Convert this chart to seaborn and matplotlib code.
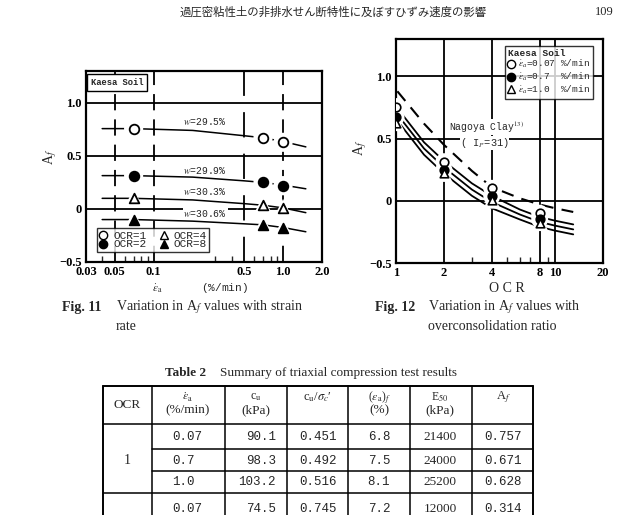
import matplotlib
matplotlib.use("Agg")
import matplotlib.pyplot as plt
import matplotlib.lines as mlines
import numpy as np
import pandas as pd
import seaborn as sns

# ---------------- data ----------------
strain_rates = [0.07, 0.7, 1.0]                 # %/min
ocr_values = [1, 2, 4, 8]
af_ocr1 = [0.757, 0.671, 0.628]
af_ocr2 = [0.314, 0.25, 0.22]
af_ocr4 = [0.10, 0.035, 0.005]
af_ocr8 = [-0.10, -0.15, -0.175]
water_contents = ["29.5", "29.9", "30.3", "30.6"]

# trend lines of Fig. 11 (A_f vs strain rate)
trend_rate = [0.04, 0.07, 0.2, 0.5, 0.7, 1.0, 1.5]
trend_ocr1 = [0.757, 0.757, 0.74, 0.69, 0.671, 0.635, 0.585]
trend_ocr2 = [0.314, 0.314, 0.30, 0.265, 0.25, 0.225, 0.19]
trend_ocr4 = [0.10, 0.10, 0.085, 0.05, 0.035, 0.01, -0.035]
trend_ocr8 = [-0.10, -0.10, -0.115, -0.14, -0.15, -0.175, -0.215]

# Nagoya clay curves of Fig. 12 (A_f vs OCR)
nagoya_ocr_dash = [1.02, 1.5, 2, 3, 4, 6, 8, 10, 13]
nagoya_dash = [0.88, 0.62, 0.45, 0.24, 0.11, 0.02, -0.03, -0.06, -0.09]
nagoya_ocr = [1.07, 1.5, 2, 3, 4, 6, 8, 10, 13]
nagoya_top = [0.71, 0.47, 0.32, 0.14, 0.04, -0.07, -0.13, -0.16, -0.19]
nagoya_mid = [0.66, 0.42, 0.27, 0.09, -0.01, -0.11, -0.17, -0.20, -0.23]
nagoya_bot = [0.61, 0.37, 0.22, 0.04, -0.06, -0.15, -0.21, -0.24, -0.27]

# Table 2
table_headers = ["OCR", "$\\dot{\\varepsilon}_{\\rm a}$\n(%/min)", "c$_{\\rm u}$\n(kPa)",
                 "c$_{\\rm u}$/$\\sigma_{c}$\u2032", "($\\varepsilon_{\\rm a}$)$_f$\n(%)",
                 "E$_{50}$\n(kPa)", "A$_f$"]
tbl_ocr = ["1", "1", "1", "2"]
tbl_rate = ["0.07", "0.7", "1.0", "0.07"]
tbl_cu = ["90.1", "98.3", "103.2", "74.5"]
tbl_cu_ratio = ["0.451", "0.492", "0.516", "0.745"]
tbl_strain_f = ["6.8", "7.5", "8.1", "7.2"]
tbl_e50 = ["21400", "24000", "25200", "12000"]
tbl_af = ["0.757", "0.671", "0.628", "0.314"]

# ---------------- style ----------------
sns.set_theme(style="white")
plt.rcParams['font.family'] = ['Liberation Serif', 'Noto Sans CJK JP', 'DejaVu Sans']
plt.rcParams['mathtext.fontset'] = 'stix'
MONO = ['Liberation Mono', 'DejaVu Sans Mono']

W, H = 622, 515
fig = plt.figure(figsize=(W / 100, H / 100), dpi=100)
fig.patch.set_facecolor("white")


def box(l, t, r, b):
    return [l / W, 1 - b / H, (r - l) / W, (b - t) / H]


def style_axes(ax):
    for s in ax.spines.values():
        s.set_color("black")
        s.set_linewidth(1.6)
    ax.tick_params(which="major", length=0, pad=3, labelsize=9)
    ax.tick_params(which="minor", direction="in", length=4, width=1.0,
                   bottom=True, left=False, labelbottom=False)
    for lab in ax.get_xticklabels() + ax.get_yticklabels():
        lab.set_fontweight("bold")
        lab.set_color("black")


# ---------------- Fig. 11 ----------------
axL = fig.add_axes(box(86, 71, 322, 262))
axL.set_xscale("log")
axL.set_xlim(0.03, 2.0)
axL.set_ylim(-0.5, 1.3)
for yv in [0.0, 0.5, 1.0]:
    axL.axhline(yv, color="black", lw=1.3, zorder=1)
for xv, ls in [(0.05, (0, (9, 5))), (0.1, (0, (9, 5))), (0.5, (0, (14, 9))), (1.0, (0, (9, 5)))]:
    axL.axvline(xv, color="black", lw=1.3, ls=ls, zorder=1)

trend_df = pd.DataFrame({
    "rate": trend_rate * 4,
    "af": trend_ocr1 + trend_ocr2 + trend_ocr4 + trend_ocr8,
    "ocr": sum([[o] * len(trend_rate) for o in ocr_values], []),
})
sns.lineplot(data=trend_df, x="rate", y="af", units="ocr", estimator=None,
             sort=False, color="black", lw=1.1, ax=axL, zorder=2)

series = [(af_ocr1, "o", "white"), (af_ocr2, "o", "black"),
          (af_ocr4, "^", "white"), (af_ocr8, "^", "black")]
for vals, mk, fc in series:
    sns.scatterplot(x=strain_rates, y=vals, marker=mk, s=190, color="white",
                    edgecolor="none", ax=axL, zorder=3)
    sns.scatterplot(x=strain_rates, y=vals, marker=mk, s=48, color=fc,
                    edgecolor="black", linewidth=1.3, ax=axL, zorder=4)

for wc, yv in zip(water_contents, [0.82, 0.365, 0.16, -0.045]):
    axL.text(0.25, yv, "$w$=" + wc + "%", fontsize=7, family=MONO,
             ha="center", va="center", zorder=5,
             bbox=dict(facecolor="white", edgecolor="none", pad=0.5))

axL.text(0.02, 0.965, "Kaesa Soil", transform=axL.transAxes, fontsize=6.3,
         family=MONO, fontweight="bold", ha="left", va="top", zorder=6,
         bbox=dict(facecolor="white", edgecolor="black", lw=1.0, boxstyle="square,pad=0.45"))

hL = [mlines.Line2D([], [], ls="none", marker="o", mfc="white", mec="black", ms=6),
      mlines.Line2D([], [], ls="none", marker="o", mfc="black", mec="black", ms=6),
      mlines.Line2D([], [], ls="none", marker="^", mfc="white", mec="black", ms=6),
      mlines.Line2D([], [], ls="none", marker="^", mfc="black", mec="black", ms=6)]
legL = axL.legend(hL, ["OCR=1", "OCR=2", "OCR=4", "OCR=8"], ncol=2, loc="lower left",
                  bbox_to_anchor=(0.025, 0.025), frameon=True, fancybox=False,
                  handlelength=0.6, handletextpad=0.6, columnspacing=1.3,
                  borderpad=0.2, labelspacing=-0.1, prop={"family": MONO, "size": 8})
legL.get_frame().set_edgecolor("black")
legL.get_frame().set_linewidth(1.0)
legL.set_zorder(7)

axL.set_xticks([0.03, 0.05, 0.1, 0.5, 1.0, 2.0])
axL.set_xticklabels(["0.03", "0.05", "0.1", "0.5", "1.0", "2.0"])
axL.set_xticks([0.04, 0.06, 0.07, 0.08, 0.09, 0.3, 0.4, 0.6, 0.7, 0.8, 0.9], minor=True)
axL.set_yticks([-0.5, 0, 0.5, 1.0])
axL.set_yticklabels(["\u22120.5", "0", "0.5", "1.0"])
axL.set_xlabel("")
axL.set_ylabel("")
style_axes(axL)

# ---------------- Fig. 12 ----------------
axR = fig.add_axes(box(396, 39, 603, 263))
axR.set_xscale("log")
axR.set_xlim(1, 20)
axR.set_ylim(-0.5, 1.3)
for yv in [0.0, 0.5, 1.0]:
    axR.axhline(yv, color="black", lw=1.3, zorder=1)
for xv in [2, 4, 8, 10]:
    axR.axvline(xv, color="black", lw=1.3, zorder=1)

curve_df = pd.DataFrame({
    "ocr": nagoya_ocr * 3,
    "af": nagoya_top + nagoya_mid + nagoya_bot,
    "curve": ["top"] * 9 + ["mid"] * 9 + ["bot"] * 9,
})
sns.lineplot(data=curve_df, x="ocr", y="af", units="curve", estimator=None,
             sort=False, color="black", lw=1.3, ax=axR, zorder=2)
sns.lineplot(x=nagoya_ocr_dash, y=nagoya_dash, color="black", lw=1.5,
             ls=(0, (6, 4)), ax=axR, zorder=2)

ocr_series = [
    ([af_ocr1[0], af_ocr2[0], af_ocr4[0], af_ocr8[0]], "o", "white"),
    ([af_ocr1[1], af_ocr2[1], af_ocr4[1], af_ocr8[1]], "o", "black"),
    ([af_ocr1[2], af_ocr2[2], af_ocr4[2], af_ocr8[2]], "^", "white"),
]
for vals, mk, fc in ocr_series:
    sns.scatterplot(x=ocr_values, y=vals, marker=mk, s=150, color="white",
                    edgecolor="none", ax=axR, zorder=3)
for vals, mk, fc in ocr_series:
    sns.scatterplot(x=ocr_values, y=vals, marker=mk, s=38, color=fc,
                    edgecolor="black", linewidth=1.2, ax=axR, zorder=4)

axR.text(3.7, 0.59, "Nagoya Clay$^{13)}$", fontsize=7, family=MONO,
         ha="center", va="center", zorder=5,
         bbox=dict(facecolor="white", edgecolor="none", pad=0.1))
axR.text(3.6, 0.465, "( I$_P$=31)", fontsize=7.5, family=MONO,
         ha="center", va="center", zorder=5,
         bbox=dict(facecolor="white", edgecolor="none", pad=0.1))

hR = [mlines.Line2D([], [], ls="none", marker="o", mfc="white", mec="black", ms=6),
      mlines.Line2D([], [], ls="none", marker="o", mfc="black", mec="black", ms=6),
      mlines.Line2D([], [], ls="none", marker="^", mfc="white", mec="black", ms=6)]
labR = ["$\\dot{\\varepsilon}_a$=" + f"{r:<4}" + " %/min" for r in ["0.07", "0.7", "1.0"]]
legR = axR.legend(hR, labR, title="Kaesa Soil", loc="upper right",
                  bbox_to_anchor=(0.975, 0.99), frameon=True, fancybox=False,
                  handlelength=0.6, handletextpad=0.5, borderpad=0.3,
                  labelspacing=0.05, prop={"family": MONO, "size": 6.8},
                  title_fontproperties={"family": MONO, "size": 6.8, "weight": "bold"})
legR._legend_box.align = "left"
legR.get_frame().set_edgecolor("black")
legR.get_frame().set_linewidth(1.0)
legR.set_zorder(7)

axR.set_xticks([1, 2, 4, 8, 10, 20])
axR.set_xticklabels(["1", "2", "4", "8", "10", "20"])
axR.set_xticks([3, 5, 6, 7, 9], minor=True)
axR.set_yticks([-0.5, 0, 0.5, 1.0])
axR.set_yticklabels(["\u22120.5", "0", "0.5", "1.0"])
axR.set_xlabel("")
axR.set_ylabel("")
style_axes(axR)

# ---------------- page overlay (text & table) ----------------
ov = fig.add_axes([0, 0, 1, 1], zorder=-1)
ov.set_xlim(0, W)
ov.set_ylim(H, 0)
ov.axis("off")

ov.text(333, 12, "過圧密粘性土の非排水せん断特性に及ぼすひずみ速度の影響", fontsize=8.2,
        family=["Noto Sans CJK JP"], ha="center", va="center")
ov.text(614, 12, "109", fontsize=9, ha="right", va="center")

# axis labels
ov.text(50, 157, "A$_f$", fontsize=10, rotation=90, ha="center", va="center")
ov.text(360, 148, "A$_f$", fontsize=10, rotation=90, ha="center", va="center")
ov.text(200, 288, "$\\dot{\\varepsilon}_{\\rm a}$      (%/min)", fontsize=8, family=MONO,
        ha="center", va="center")
ov.text(507, 288, "O C R", fontsize=10, ha="center", va="center")

# captions
ov.text(62, 307, "Fig. 11", fontsize=10, fontweight="bold", ha="left", va="center")
ov.text(116, 307, "Variation in A$_f$ values with strain", fontsize=10, ha="left", va="center")
ov.text(116, 327, "rate", fontsize=10, ha="left", va="center")
ov.text(375, 307, "Fig. 12", fontsize=10, fontweight="bold", ha="left", va="center")
ov.text(428, 307, "Variation in A$_f$ values with", fontsize=10, ha="left", va="center")
ov.text(428, 327, "overconsolidation ratio", fontsize=10, ha="left", va="center")

ov.text(165, 373, "Table 2", fontsize=9.5, fontweight="bold", ha="left", va="center")
ov.text(220, 373, "Summary of triaxial compression test results", fontsize=9.5,
        ha="left", va="center")

# table grid
col_edges = [103, 152, 225, 287, 348, 410, 472, 533]
row_edges = [386, 424, 449, 471, 493]
lw_t = 1.1
ov.plot([col_edges[0], col_edges[-1]], [row_edges[0]] * 2, color="black", lw=1.4)
ov.plot([col_edges[0], col_edges[-1]], [row_edges[1]] * 2, color="black", lw=lw_t)
ov.plot([col_edges[1], col_edges[-1]], [row_edges[2]] * 2, color="black", lw=lw_t)
ov.plot([col_edges[1], col_edges[-1]], [row_edges[3]] * 2, color="black", lw=lw_t)
ov.plot([col_edges[0], col_edges[-1]], [row_edges[4]] * 2, color="black", lw=lw_t)
for i, xe in enumerate(col_edges):
    ov.plot([xe, xe], [row_edges[0], H + 5], color="black",
            lw=1.4 if i in (0, len(col_edges) - 1) else lw_t)

# header
hdr_x = [127, 188, 256, 318, 379, 440, 503]
for x, h in zip(hdr_x, table_headers):
    if "\n" in h:
        top, bot = h.split("\n")
        ov.text(x, 397, top, fontsize=8.5, ha="center", va="center")
        ov.text(x, 410, bot, fontsize=9.5, ha="center", va="center")
    elif h == "OCR":
        ov.text(x, 405, h, fontsize=9.5, ha="center", va="center")
    else:
        ov.text(x, 397, h, fontsize=9, ha="center", va="center")

row_y = [437, 461, 482, 509]
for i, y in enumerate(row_y):
    ov.text(172, y, tbl_rate[i], fontsize=9, family=MONO, ha="left", va="center")
    ov.text(276, y, tbl_cu[i], fontsize=9, family=MONO, ha="right", va="center")
    ov.text(318, y, tbl_cu_ratio[i], fontsize=9, family=MONO, ha="center", va="center")
    ov.text(379, y, tbl_strain_f[i], fontsize=9, family=MONO, ha="center", va="center")
    ov.text(440, y, tbl_e50[i], fontsize=9.5, ha="center", va="center")
    ov.text(503, y, tbl_af[i], fontsize=9, family=MONO, ha="center", va="center")
ov.text(127, 461, tbl_ocr[0], fontsize=10, ha="center", va="center")

fig.savefig("out.png", dpi=100, facecolor="white")
